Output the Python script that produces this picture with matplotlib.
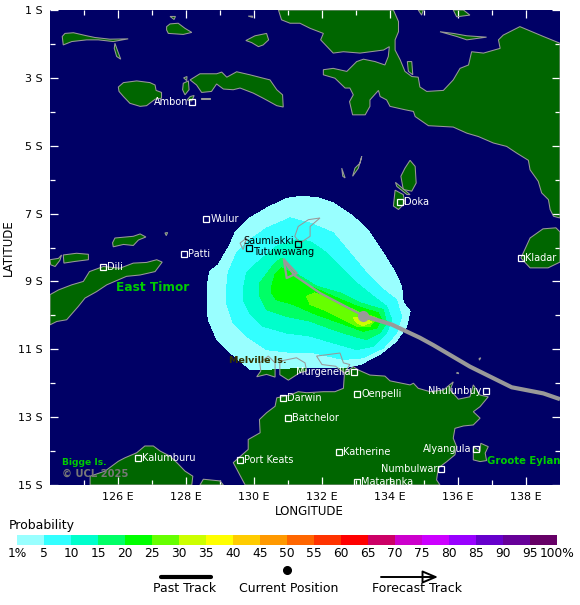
import matplotlib as mpl
mpl.use('agg')
import matplotlib.pyplot as plt
from matplotlib.colors import ListedColormap, BoundaryNorm
from matplotlib.lines import Line2D

W, H = 580, 605
sea = '#000066'
land = '#006600'
coast = '#999999'

# land, lon / degrees south
new_guinea = [(130.72,1.0),(130.81,1.29),(131.06,1.39),(131.35,1.39),(131.65,1.54),(132.04,1.69),(131.96,1.88),
    (132.33,2.27),(132.63,2.23),(133.12,2.27),(133.81,2.18),(133.98,2.08),(133.95,2.37),(133.85,2.62),(133.56,2.52),
    (133.22,2.45),(133.02,2.52),(132.73,2.81),(132.33,2.72),(132.04,2.76),(132.04,2.91),(132.38,3.01),(132.68,3.30),
    (132.82,3.30),(132.92,3.50),(132.81,3.70),(132.90,4.09),(133.27,4.09),(133.41,3.84),(133.41,3.65),(133.66,3.37),
    (133.71,3.55),(133.90,3.65),(134.0,3.84),(134.44,3.94),(134.69,3.99),(134.74,4.14),(135.13,4.41),(135.86,4.45),
    (136.26,4.63),(136.60,4.73),(137.04,4.92),(137.43,5.02),(137.73,5.22),(138.07,5.43),(138.12,5.71),(138.36,6.05),
    (138.46,6.39),(138.66,6.59),(138.71,6.88),(138.81,7.08),(139.0,7.13),(139.0,1.98),(138.51,1.78),(137.82,1.49),
    (137.33,1.74),(137.19,1.88),(137.24,2.13),(136.75,2.27),(136.40,2.23),(136.31,2.62),(136.06,2.72),(135.86,3.06),
    (135.57,3.37),(135.08,3.40),(134.88,3.27),(134.83,2.98),(134.64,2.96),(134.44,2.81),(134.30,2.47),(134.15,2.18),
    (134.15,1.88),(134.25,1.64),(134.25,1.34),(134.10,1.0)]
seram = [(128.12,3.06),(128.41,2.88),(128.90,2.88),(129.05,2.83),(129.20,2.98),(129.49,2.82),(129.88,2.91),(130.27,3.01),
    (130.47,3.06),(130.67,3.35),(130.84,3.50),(130.86,3.86),(130.67,3.82),(130.27,3.60),(129.98,3.45),(129.59,3.30),
    (129.39,3.35),(129.10,3.33),(128.90,3.18),(128.75,3.40),(128.46,3.43),(128.31,3.21)]
buru = [(126.01,3.27),(126.16,3.14),(126.55,3.09),(126.94,3.14),(127.09,3.21),(127.12,3.37),(127.28,3.43),(127.28,3.60),
    (127.09,3.63),(126.84,3.82),(126.65,3.84),(126.35,3.75),(126.16,3.55),(126.03,3.40)]
obi = [(127.43,1.49),(127.53,1.41),(127.77,1.39),(127.97,1.54),(128.17,1.66),(127.92,1.72),(127.48,1.69),(127.43,1.59)]
sula = [(124.36,1.78),(124.44,1.69),(124.69,1.67),(125.08,1.76),(125.32,1.81),(125.76,1.86),(126.30,1.85),(125.86,1.93),
    (125.42,1.88),(125.08,1.88),(124.64,1.93),(124.39,2.03)]
sanana = [(125.91,1.98),(125.98,2.18),(126.08,2.45),(125.96,2.37),(125.89,2.13)]
misool = [(129.76,1.90),(130.03,1.76),(130.37,1.69),(130.43,1.88),(130.27,2.03),(130.13,2.08),(129.93,1.96)]
ambon_a = [(127.92,3.16),(128.07,3.09),(128.09,3.35),(127.97,3.50),(127.90,3.35)]
ambon_b = [(128.12,3.55),(128.24,3.52),(128.17,3.68),(128.03,3.65)]
wetar = [(125.91,7.72),(126.45,7.67),(126.65,7.60),(126.82,7.69),(126.60,7.78),(126.45,7.94),(126.16,7.91),(125.86,7.98),(125.84,7.86)]
alor = [(124.39,8.22),(124.78,8.17),(125.13,8.20),(125.13,8.36),(124.74,8.41),(124.41,8.46)]
lembata = [(124.0,8.36),(124.25,8.32),(124.34,8.22),(124.29,8.38),(124.15,8.56),(124.02,8.51)]
timor = [(124.0,9.39),(124.25,9.25),(124.64,9.10),(124.98,9.0),(125.16,8.71),(125.57,8.56),(126.06,8.61),(126.45,8.46),
    (126.84,8.44),(127.14,8.36),(127.30,8.43),(127.09,8.71),(126.65,8.81),(126.25,8.85),(125.67,9.10),(125.37,9.30),
    (125.03,9.49),(124.83,9.74),(124.49,10.13),(124.20,10.18),(124.0,10.28)]
kimberley = [(125.18,15.0),(125.18,14.74),(125.62,14.59),(126.01,14.30),(126.20,14.20),(126.55,14.05),(126.79,13.85),
    (127.04,13.85),(127.24,14.0),(127.53,14.15),(127.73,14.34),(127.97,14.59),(128.20,14.74),(128.17,15.0)]
cape = [(128.41,15.0),(128.51,14.83),(129.0,14.88),(129.10,15.0)]
top_end = [(129.74,15.0),(129.39,14.34),(129.83,13.95),(129.83,13.66),(130.18,13.46),(130.16,13.07),(130.37,12.87),
    (130.62,12.68),(130.67,12.43),(131.06,12.35),(131.30,12.25),(131.55,12.28),(132.04,12.25),(132.38,12.25),(132.63,12.15),
    (132.66,11.71),(132.92,11.51),(133.07,11.61),(133.41,11.76),(133.85,11.79),(134.0,11.93),(134.59,12.05),(134.69,12.0),
    (134.83,12.15),(135.18,12.25),(135.57,12.20),(135.86,11.96),(135.77,12.20),(136.01,12.47),(136.35,12.40),(136.45,12.05),
    (136.65,12.35),(136.89,12.40),(136.65,12.69),(136.45,12.84),(136.65,13.03),(136.45,13.23),(136.16,13.26),(135.91,13.33),
    (135.86,13.62),(135.96,13.87),(135.91,14.11),(135.67,14.31),(135.42,14.50),(135.37,14.85),(135.47,15.0)]
groote = [(136.45,13.87),(136.65,14.01),(136.67,13.77),(136.89,13.87),(136.80,14.06),(136.84,14.28),(136.65,14.31),(136.45,14.26)]
bathurst = [(130.08,11.81),(130.20,11.64),(130.17,11.40),(130.42,11.20),(130.62,11.40),(130.62,11.82),(130.37,11.74)]
melville = [(130.76,11.35),(131.25,11.25),(131.50,11.40),(131.55,11.64),(131.35,11.69),(131.01,11.91),(130.76,11.75)]
cobourg = [(131.84,11.20),(132.53,11.11),(132.63,11.40),(132.82,11.45),(132.66,11.70),(132.40,11.50),(132.0,11.45)]
yamdena = [(131.60,7.18),(131.94,7.13),(131.65,7.38),(131.65,7.67),(131.35,7.87),(131.20,7.67),(131.30,7.38)]
selaru = [(129.59,7.87),(129.78,7.72),(129.68,8.06)]
aru_a = [(134.59,5.43),(134.74,5.61),(134.77,6.10),(134.64,6.34),(134.39,6.29),(134.32,5.90),(134.44,5.66)]
aru_b = [(134.15,6.31),(134.39,6.44),(134.44,6.69),(134.25,6.88),(134.10,6.78)]
aru_c = [(134.16,6.08),(134.59,6.44),(134.50,6.44),(134.20,6.20)]
kei_a = [(132.58,5.66),(132.68,5.95),(132.61,5.90)]
kei_b = [(133.17,5.31),(133.07,5.66),(132.90,5.90),(132.97,5.66),(133.12,5.51)]
kolepom = [(137.85,8.31),(138.12,7.72),(138.50,7.45),(138.88,7.42),(139.0,7.54),(139.0,8.43),(138.65,8.60),(138.12,8.60)]
biak = [(135.47,1.64),(135.86,1.69),(136.26,1.76),(136.84,1.80),(136.26,1.88),(135.96,1.78)]
numfor = [(135.86,1.0),(135.96,1.20),(136.35,1.15),(136.16,1.0)]
yapen = [(134.83,1.0),(134.93,1.15),(134.98,1.0)]
kumawa = [(134.51,2.52),(134.64,2.52),(134.67,2.91),(134.54,2.81)]
islet_a = [(127.53,1.19),(127.69,1.19),(127.65,1.28)]
islet_b = [(129.83,1.18),(129.96,1.18),(129.96,1.22)]
islet_c = [(127.93,3.00),(128.03,2.96),(128.02,3.08)]
islet_d = [(127.38,7.57),(127.46,7.56),(127.42,7.65)]
islet_e = [(128.45,3.58),(128.72,3.58),(128.72,3.63),(128.45,3.63)]
islet_f = [(135.95,11.70),(136.00,11.68),(136.02,11.72)]
islet_g = [(136.62,11.27),(136.67,11.25),(136.63,11.32)]

islands = [new_guinea, seram, buru, obi, sula, sanana, misool, ambon_a, ambon_b, wetar, alor, lembata, timor, kimberley,
    cape, top_end, groote, bathurst, melville, cobourg, yamdena, selaru, aru_a, aru_b, aru_c, kei_a, kei_b, kolepom,
    biak, numfor, yapen, kumawa, islet_a, islet_b, islet_c, islet_d, islet_e, islet_f, islet_g]

# probability areas, outermost first
prob_1 = [(131.35,6.50),(131.84,6.52),(132.33,6.69),(132.92,7.08),(133.41,7.57),(133.80,8.16),(134.10,8.65),(134.34,9.14),
    (134.39,9.63),(134.59,9.88),(134.49,10.32),(134.19,10.76),(133.70,11.15),(133.12,11.45),(132.63,11.55),(131.84,11.55),
    (131.06,11.55),(130.37,11.59),(129.88,11.59),(129.29,11.09),(128.91,10.71),(128.65,10.12),(128.62,9.15),(128.70,8.70),
    (128.95,8.51),(129.29,7.92),(129.44,7.57),(129.88,7.13),(130.37,6.84),(130.96,6.55)]
prob_5 = [(129.19,9.24),(129.24,8.75),(129.49,8.16),(129.88,7.77),(130.37,7.43),(131.06,7.13),(131.65,7.28),(132.33,7.57),
    (132.82,8.16),(133.31,8.75),(133.80,9.24),(134.19,9.54),(134.34,10.03),(134.19,10.52),(133.80,10.96),(133.21,11.25),
    (132.63,11.30),(131.74,11.10),(131.16,11.10),(130.37,11.01),(129.78,10.61),(129.39,10.22),(129.19,9.63)]
prob_10 = [(129.68,9.24),(129.78,8.75),(130.08,8.46),(130.66,7.97),(131.25,7.77),(131.65,7.82),(132.14,8.16),(132.53,8.55),
    (133.02,9.05),(133.51,9.44),(133.90,9.73),(134.05,10.12),(133.90,10.52),(133.51,10.91),(133.02,11.01),(132.33,10.81),
    (131.65,10.61),(130.96,10.52),(130.27,10.32),(129.88,9.93),(129.68,9.54)]
prob_15 = [(130.17,9.05),(130.57,8.51),(130.81,8.31),(131.20,8.75),(131.84,9.14),(132.53,9.34),(133.12,9.63),(133.80,9.83),
    (133.90,10.22),(133.70,10.52),(133.31,10.71),(132.92,10.61),(132.33,10.42),(131.65,10.17),(130.96,10.03),(130.37,9.83),(130.17,9.44)]
prob_20 = [(130.52,9.14),(130.62,8.80),(130.81,8.60),(131.11,8.75),(131.65,9.14),(132.33,9.44),(133.02,9.73),(133.66,9.93),
    (133.75,10.12),(133.61,10.37),(133.21,10.47),(132.53,10.22),(131.84,9.98),(131.16,9.68),(130.66,9.54),(130.52,9.34)]
prob_25 = [(131.55,9.44),(131.79,9.34),(132.33,9.54),(133.02,9.88),(133.61,10.07),(133.41,10.32),(133.02,10.32),(132.53,10.07),(132.04,9.83),(131.65,9.68)]
prob_30 = [(132.92,10.07),(133.21,10.07),(133.46,10.20),(133.21,10.30),(133.02,10.22)]
prob_areas = [prob_1, prob_5, prob_10, prob_15, prob_20, prob_25, prob_30]

prob_edges = [0, 5, 10, 15, 20, 25, 30, 35, 40, 45, 50, 55, 60, 65, 70, 75, 80, 85, 90, 95, 100]
prob_labels = ['1%'] + [str(v) for v in prob_edges[1:-1]] + ['100%']
prob_colors = ['#99ffff', '#33ffff', '#00ffcc', '#00ff66', '#00ff00', '#66ff00', '#ccff00', '#ffff00', '#ffcc00', '#ff9900',
    '#ff6600', '#ff3300', '#ff0000', '#cc0066', '#cc00cc', '#cc00ff', '#9900ff', '#6600cc', '#660099', '#660066']

past_lon = [133.21, 134.05, 134.88, 135.28, 136.35, 137.58, 138.51, 139.0]
past_lat = [10.01, 10.27, 10.66, 10.88, 11.51, 12.12, 12.30, 12.47]
fcst_lon = [133.21, 131.94, 131.20, 130.95]
fcst_lat = [10.01, 9.34, 8.83, 8.50]
fcst_tip = (130.83, 8.25)

cities = ['Ambon', 'Wulur', 'Saumlakki', 'Tutuwawang', 'Patti', 'Dili', 'Doka', 'Kladar', 'Murgenella', 'Darwin', 'Oenpelli',
    'Nhulunbuy', 'Batchelor', 'Katherine', 'Alyangula', 'Numbulwar', 'Mataranka', 'Port Keats', 'Kalumburu']
city_lon = [128.19, 128.60, 131.30, 129.86, 127.95, 125.57, 134.30, 137.85, 132.95, 130.84, 133.04,
    136.81, 131.0, 132.51, 136.52, 135.51, 133.04, 129.60, 126.60]
city_lat = [3.72, 7.16, 7.90, 8.02, 8.20, 8.58, 6.67, 8.31, 11.68, 12.45, 12.33,
    12.22, 13.03, 14.03, 13.93, 14.53, 14.92, 14.25, 14.20]
label_on_left = ['Ambon', 'Saumlakki', 'Murgenella', 'Nhulunbuy', 'Alyangula', 'Numbulwar']
dark_cities = ['Saumlakki', 'Tutuwawang']
label_raise = {'Saumlakki': 3, 'Tutuwawang': -4}

lon_major = list(range(126, 139, 2))
lon_minor = list(range(125, 139, 2))
lat_major = list(range(1, 16, 2))
lat_minor = list(range(2, 15, 2))


def fig_xy(x, y):
    return x / W, 1 - y / H


fig = plt.figure(figsize=(W / 100, H / 100), dpi=100)
ax = fig.add_axes([50 / W, 1 - 485 / H, 510 / W, 475 / H])
ax.set_facecolor(sea)
ax.set_xlim(124, 139)
ax.set_ylim(15, 1)

for isl in islands:
    ax.fill(*zip(*isl), fc=land, ec='none', zorder=1)
for area, col in zip(prob_areas, prob_colors):
    ax.fill(*zip(*area), fc=col, ec='none', antialiased=False, zorder=2)
for isl in islands:
    ax.fill(*zip(*isl), fc='none', ec=coast, lw=0.75, zorder=3)

ax.plot(past_lon, past_lat, color=coast, lw=3.0, zorder=4, solid_capstyle='butt')
ax.plot(fcst_lon, fcst_lat, color=coast, lw=1.6, zorder=4)
ax.annotate('', xy=fcst_tip, xytext=(fcst_lon[3], fcst_lat[3]),
            arrowprops=dict(arrowstyle='-|>,head_length=1.3,head_width=0.4', fc='none', ec=coast, lw=1.6, shrinkA=0, shrinkB=0), zorder=4)
ax.plot(past_lon[0], past_lat[0], 'o', color=coast, ms=7, zorder=5)

for name, lon, lat in zip(cities, city_lon, city_lat):
    col = 'black' if name in dark_cities else 'white'
    ax.plot(lon, lat, 's', mfc='none', mec=col, ms=4.5, mew=0.9, zorder=6)
    left = name in label_on_left
    ax.annotate(name, (lon, lat), xytext=(-4 if left else 4, label_raise.get(name, 0)), textcoords='offset pixels', color=col,
                fontsize=7.0, ha='right' if left else 'left', va='center', zorder=7, annotation_clip=True)

ax.text(127.03, 9.19, 'East Timor', color='#00cc00', fontsize=8.7, weight='bold', ha='center', va='center', zorder=7)
ax.text(129.25, 11.33, 'Melville Is.', color='#333300', fontsize=6.8, weight='bold', va='center', zorder=7)
ax.text(124.35, 14.35, 'Bigge Is.', color='#00cc00', fontsize=6.6, weight='bold', va='center', zorder=7)
ax.text(124.35, 14.68, '© UCL 2025', color='#777777', fontsize=7.2, weight='bold', va='center', zorder=7)
ax.text(136.85, 14.3, 'Groote Eylandt', color='#00cc00', fontsize=7.3, weight='bold', va='center', zorder=7, clip_on=True)

ax.set_xticks(lon_major)
ax.set_xticks(lon_minor, minor=True)
ax.set_xticklabels([f'{v} E' for v in lon_major])
ax.set_yticks(lat_major)
ax.set_yticks(lat_minor, minor=True)
ax.set_yticklabels([f'{v} S' for v in lat_major])
ax.tick_params(which='major', direction='in', length=6, width=0.9, color='white', top=True, right=True, labelsize=8)
ax.tick_params(which='minor', direction='in', length=3.5, width=0.9, color='white', top=True, right=True)
ax.tick_params(axis='x', which='major', pad=5)
ax.tick_params(axis='y', which='major', pad=5)
for s in ax.spines.values():
    s.set_visible(False)
ax.set_xlabel('LONGITUDE', fontsize=8.5, labelpad=0)
ax.xaxis.set_label_coords(259 / 510, -20 / 475)
ax.set_ylabel('LATITUDE', fontsize=8.5)
ax.yaxis.set_label_coords(-35 / 510, 0.5)
ax.set_axisbelow(False)

# colour bar
cax = fig.add_axes([17 / W, 1 - 545 / H, 540 / W, 10 / H])
cb = mpl.colorbar.ColorbarBase(cax, cmap=ListedColormap(prob_colors), norm=BoundaryNorm(prob_edges, len(prob_colors)),
                               orientation='horizontal', ticks=prob_edges, spacing='proportional')
cb.outline.set_visible(False)
cb.ax.set_xticklabels(prob_labels)
cax.tick_params(length=0, labelsize=8.8, pad=1.5)
fig.text(*fig_xy(9, 526), 'Probability', fontsize=9, va='center')

# legend row
fig.add_artist(Line2D([161 / W, 211 / W], [fig_xy(0, 577)[1]] * 2, color='black', lw=3, solid_capstyle='round'))
fig.add_artist(Line2D([fig_xy(287, 0)[0]], [fig_xy(0, 570)[1]], marker='o', color='black', ms=5.5))
fig.add_artist(mpl.patches.FancyArrowPatch(fig_xy(381, 577), fig_xy(438, 577), transform=fig.transFigure,
               arrowstyle='-|>,head_length=0.85,head_width=0.36', fc='none', ec='black', lw=1.4, shrinkA=0, shrinkB=0, mutation_scale=11))
for label, x in zip(['Past Track', 'Current Position', 'Forecast Track'], [185, 289, 417]):
    fig.text(*fig_xy(x, 589), label, fontsize=9, ha='center', va='center')

fig.savefig('out.png', dpi=100)
